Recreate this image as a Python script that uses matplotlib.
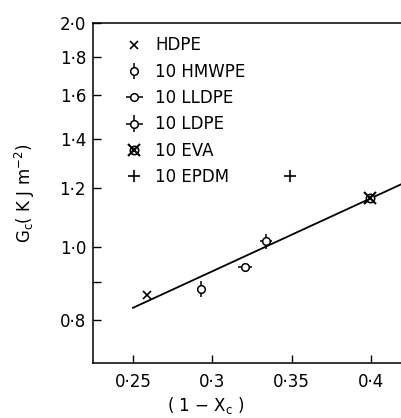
import matplotlib
matplotlib.use("Agg")
import matplotlib.pyplot as plt
from matplotlib.lines import Line2D
from matplotlib.ticker import FixedLocator, FixedFormatter, NullFormatter

plt.rcParams['font.family'] = ['DejaVu Sans']
plt.rcParams['mathtext.default'] = 'regular'

# data
hdpe_x, hdpe_y = [0.2588], [0.864]
hmwpe_x, hmwpe_y, hmwpe_yerr = [0.2929], [0.880], [0.022]
lldpe_x, lldpe_y, lldpe_xerr = [0.3206], [0.941], [0.0045]
ldpe_x, ldpe_y, ldpe_xerr, ldpe_yerr = [0.3338], [1.020], [0.004], [0.024]
eva_x, eva_y = [0.3994], [1.166]
epdm_x, epdm_y = [0.349], [1.247]
fit_x = [0.25, 0.425]
fit_y = [0.830, 1.232]

xticks = [0.25, 0.3, 0.35, 0.4]
xlabels = ['0·25', '0·3', '0·35', '0·4']
yticks = [0.8, 1.0, 1.2, 1.4, 1.6, 1.8, 2.0]
ylabels = ['0·8', '1·0', '1·2', '1·4', '1·6', '1·8', '2·0']
yminor = [0.9]

fig = plt.figure(figsize=(4.02, 4.18), dpi=100)
ax = fig.add_axes([0.2313, 0.1316, 0.7687, 0.8134])
ax.set_yscale('log')

ax.plot(fit_x, fit_y, color='black', lw=1.3)

kw = dict(color='black', mfc='white', mew=1.1, ms=5.5, capsize=0, elinewidth=1.1, ls='none')
h1, = ax.plot(hdpe_x, hdpe_y, 'x', color='black', ms=6, mew=1.2)
h2 = ax.errorbar(hmwpe_x, hmwpe_y, yerr=hmwpe_yerr, fmt='o', **kw)
h3 = ax.errorbar(lldpe_x, lldpe_y, xerr=lldpe_xerr, fmt='o', **kw)
h4 = ax.errorbar(ldpe_x, ldpe_y, xerr=ldpe_xerr, yerr=ldpe_yerr, fmt='o', **kw)
ax.plot(eva_x, eva_y, 'o', color='black', mfc='white', ms=6, mew=1.2)
ax.plot(eva_x, eva_y, 'x', color='black', ms=8, mew=1.5)
h6, = ax.plot(epdm_x, epdm_y, '+', color='black', ms=8, mew=1.2)

h5 = (Line2D([], [], marker='o', color='black', mfc='white', ms=6, mew=1.2, ls='none'),
      Line2D([], [], marker='x', color='black', ms=8, mew=1.5, ls='none'))

ax.legend([h1, h2, h3, h4, h5, h6],
          ['HDPE', '10 HMWPE', '10 LLDPE', '10 LDPE', '10 EVA', '10 EPDM'],
          loc='upper left', bbox_to_anchor=(0.085, 0.98), frameon=False,
          fontsize=12, handlelength=1.0, handletextpad=0.75, labelspacing=0.5,
          borderaxespad=0)

ax.set_xlim(0.2248, 0.4195)
ax.set_ylim(0.7, 2.0)
ax.xaxis.set_major_locator(FixedLocator(xticks))
ax.xaxis.set_major_formatter(FixedFormatter(xlabels))
ax.yaxis.set_major_locator(FixedLocator(yticks))
ax.yaxis.set_major_formatter(FixedFormatter(ylabels))
ax.yaxis.set_minor_locator(FixedLocator(yminor))
ax.yaxis.set_minor_formatter(NullFormatter())
ax.xaxis.set_minor_locator(FixedLocator([]))

ax.tick_params(direction='in', length=6, width=1, labelsize=12)
ax.tick_params(axis='x', pad=7)
ax.tick_params(axis='y', pad=5)
ax.tick_params(which='minor', direction='in', length=6, width=1)
ax.spines['right'].set_visible(False)
for s in ['left', 'bottom', 'top']:
    ax.spines[s].set_linewidth(1.1)

ax.set_xlabel('( 1 − X$_c$ )', fontsize=12)
ax.xaxis.set_label_coords(0.366, -0.095)
ax.set_ylabel('G$_c$( K J m$^{-2}$)', fontsize=12, labelpad=16)

fig.savefig('out.png', dpi=100)
